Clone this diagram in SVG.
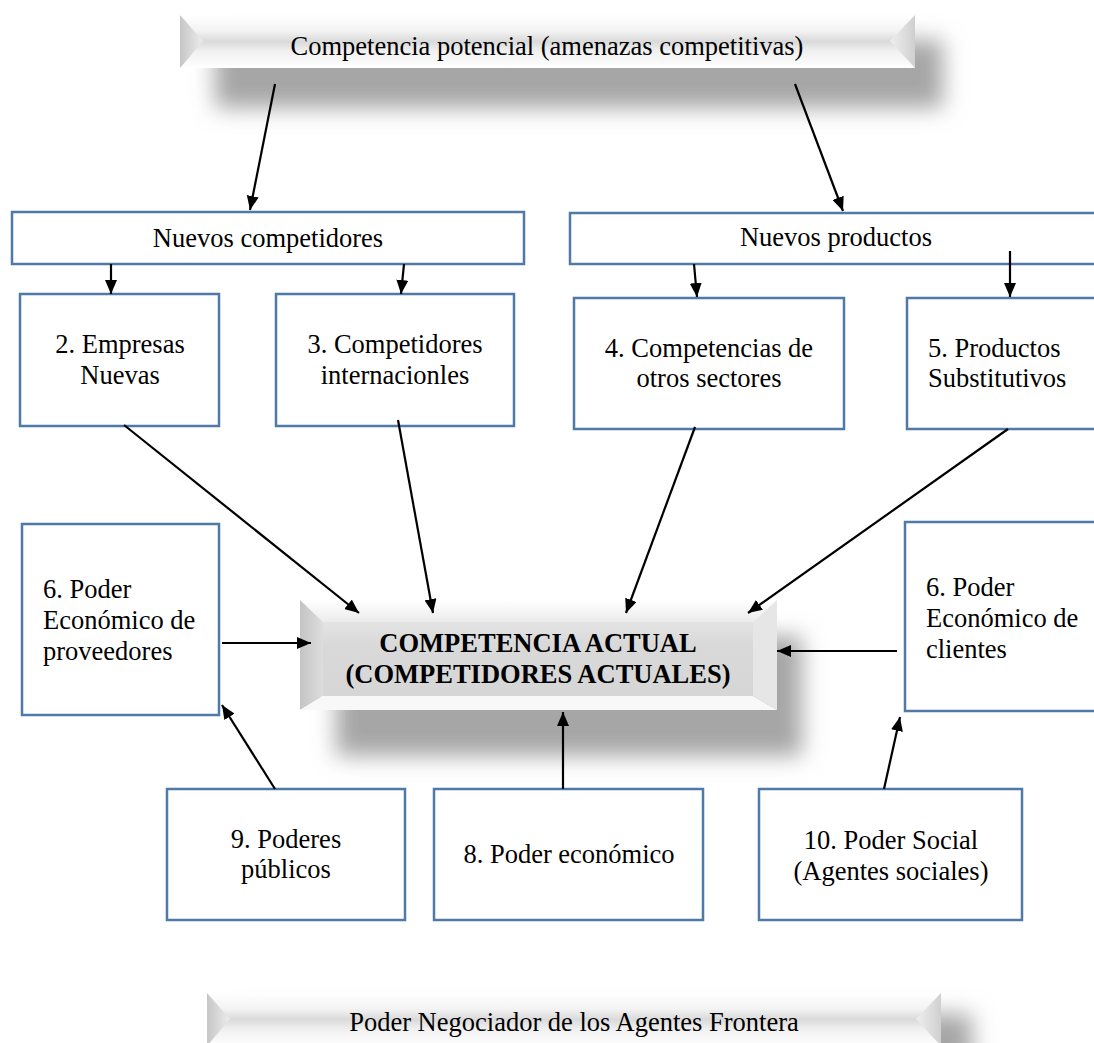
<svg xmlns="http://www.w3.org/2000/svg" width="1094" height="1043" viewBox="0 0 1094 1043">
<style>
.box{fill:#fff;stroke:#4f7aa8;stroke-width:2.5}
.t{font-family:"Liberation Serif","Times New Roman",serif;font-size:26.5px;fill:#000}
.m{text-anchor:middle}
.b{font-weight:bold}
.conn line{stroke:#000;stroke-width:2.2;marker-end:url(#ah)}
.sh{fill:#a6a6a6;filter:url(#blur)}
</style>
<defs>
<marker id="ah" viewBox="0 0 14 12" refX="14" refY="6" markerWidth="14" markerHeight="12" markerUnits="userSpaceOnUse" orient="auto">
<path d="M0,0 L14,6 L0,12 z" fill="#000"/>
</marker>
<filter id="blur" x="-20%" y="-60%" width="140%" height="220%"><feGaussianBlur stdDeviation="11"/></filter>
<linearGradient id="band" x1="0" y1="0" x2="0" y2="1">
<stop offset="0" stop-color="#ffffff"/><stop offset="0.3" stop-color="#f3f3f3"/><stop offset="0.5" stop-color="#dadada"/><stop offset="0.68" stop-color="#f0f0f0"/><stop offset="1" stop-color="#ffffff"/>
</linearGradient>
<linearGradient id="triL" x1="0" y1="0" x2="1" y2="0"><stop offset="0" stop-color="#c6c6c6"/><stop offset="1" stop-color="#ececec"/></linearGradient>
<linearGradient id="triR" x1="1" y1="0" x2="0" y2="0"><stop offset="0" stop-color="#cfcfcf"/><stop offset="1" stop-color="#efefef"/></linearGradient>
<linearGradient id="topG" x1="0" y1="0" x2="0" y2="1"><stop offset="0" stop-color="#ffffff"/><stop offset="1" stop-color="#ebebeb"/></linearGradient>
<linearGradient id="faceG" x1="0" y1="0" x2="0" y2="1"><stop offset="0" stop-color="#e4e4e4"/><stop offset="0.3" stop-color="#d9d9d9"/><stop offset="1" stop-color="#d6d6d6"/></linearGradient>
<linearGradient id="leftG" x1="0" y1="0" x2="1" y2="0"><stop offset="0" stop-color="#c4c4c4"/><stop offset="1" stop-color="#dddddd"/></linearGradient>
</defs>

<g id="shadows">
<rect class="sh" x="215" y="40" width="728" height="68"/>
<rect class="sh" x="336" y="636" width="466" height="120"/>
<rect class="sh" x="242" y="1014" width="730" height="80"/>
</g>

<g id="banner-top">
<rect x="180" y="15" width="735" height="53" fill="url(#band)"/>
<polygon points="180,15 203,41 180,68" fill="url(#triL)"/>
<polygon points="915,15 890,41 915,68" fill="url(#triR)"/>
<text class="t m" x="547" y="55">Competencia potencial (amenazas competitivas)</text>
</g>

<g id="banner-central">
<polygon points="300,600 777,600 753,622 323,622" fill="url(#topG)"/>
<polygon points="300,600 323,622 323,696 300,710" fill="url(#leftG)"/>
<polygon points="777,600 777,710 753,696 753,622" fill="#e6e6e6"/>
<polygon points="300,710 323,696 753,696 777,710" fill="#f8f8f8"/>
<rect x="323" y="622" width="430" height="74" fill="url(#faceG)"/>
<text class="t m b" x="538" y="652">COMPETENCIA ACTUAL</text>
<text class="t m b" x="538" y="683">(COMPETIDORES ACTUALES)</text>
</g>

<g id="banner-bottom">
<rect x="207" y="993" width="734" height="53" fill="url(#band)"/>
<polygon points="207,993 230,1019 207,1046" fill="url(#triL)"/>
<polygon points="941,993 916,1019 941,1046" fill="url(#triR)"/>
<text class="t m" x="574" y="1031">Poder Negociador de los Agentes Frontera</text>
</g>

<g id="nuevos-competidores">
<rect class="box" x="12" y="212" width="512" height="52"/>
<text class="t m" x="268" y="247">Nuevos competidores</text>
</g>
<g id="nuevos-productos">
<rect class="box" x="570" y="213" width="532" height="51"/>
<text class="t m" x="836" y="246">Nuevos productos</text>
</g>
<g id="n2">
<rect class="box" x="20" y="294" width="199" height="132"/>
<text class="t m" x="120" y="353">2. Empresas</text>
<text class="t m" x="120" y="384">Nuevas</text>
</g>
<g id="n3">
<rect class="box" x="276" y="294" width="238" height="132"/>
<text class="t m" x="395" y="353">3. Competidores</text>
<text class="t m" x="395" y="384">internacionles</text>
</g>
<g id="n4">
<rect class="box" x="574" y="298" width="270" height="131"/>
<text class="t m" x="709" y="357">4. Competencias de</text>
<text class="t m" x="709" y="387">otros sectores</text>
</g>
<g id="n5">
<rect class="box" x="907" y="298" width="203" height="131"/>
<text class="t" x="928" y="357">5. Productos</text>
<text class="t" x="928" y="387">Substitutivos</text>
</g>
<g id="n6-proveedores">
<rect class="box" x="22" y="524" width="197" height="191"/>
<text class="t" x="43" y="598">6. Poder</text>
<text class="t" x="43" y="629">Económico de</text>
<text class="t" x="43" y="660">proveedores</text>
</g>
<g id="n6-clientes">
<rect class="box" x="905" y="522" width="205" height="189"/>
<text class="t" x="926" y="596">6. Poder</text>
<text class="t" x="926" y="627">Económico de</text>
<text class="t" x="926" y="658">clientes</text>
</g>
<g id="n9">
<rect class="box" x="167" y="789" width="238" height="131"/>
<text class="t m" x="286" y="848">9. Poderes</text>
<text class="t m" x="286" y="878">públicos</text>
</g>
<g id="n8">
<rect class="box" x="434" y="789" width="269" height="131"/>
<text class="t m" x="569" y="863">8. Poder económico</text>
</g>
<g id="n10">
<rect class="box" x="759" y="789" width="263" height="131"/>
<text class="t m" x="891" y="849">10. Poder Social</text>
<text class="t m" x="891" y="880">(Agentes sociales)</text>
</g>

<g id="connectors" class="conn">
<line x1="275" y1="84" x2="250" y2="210"/>
<line x1="795" y1="84" x2="843" y2="211"/>
<line x1="111" y1="264" x2="111" y2="294"/>
<line x1="404" y1="264" x2="401" y2="294"/>
<line x1="694" y1="264" x2="697" y2="297"/>
<line x1="1010" y1="251" x2="1010" y2="297"/>
<line x1="124" y1="425" x2="359" y2="613"/>
<line x1="398" y1="420" x2="433" y2="613"/>
<line x1="695" y1="427" x2="626" y2="613"/>
<line x1="1008" y1="429" x2="748" y2="613"/>
<line x1="222" y1="643" x2="311" y2="643"/>
<line x1="897" y1="651" x2="777" y2="651"/>
<line x1="275" y1="789" x2="222" y2="705"/>
<line x1="563" y1="789" x2="563" y2="712"/>
<line x1="884" y1="789" x2="900" y2="717"/>
</g>
</svg>
